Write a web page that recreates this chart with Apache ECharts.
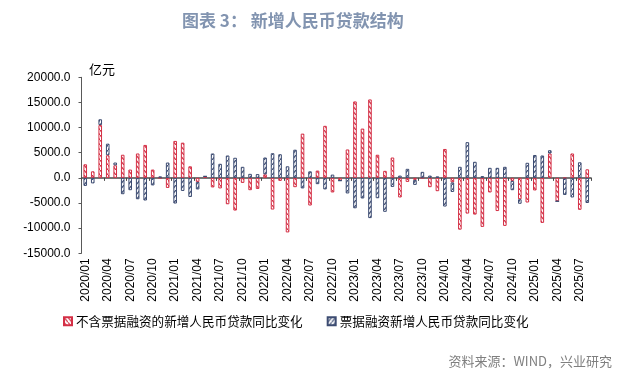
<!DOCTYPE html>
<html>
<head>
<meta charset="utf-8">
<script src="https://cdn.jsdelivr.net/npm/echarts@6/dist/echarts.min.js"></script>
<style>
html,body{margin:0;padding:0;background:#fff;}
#c{width:635px;height:375px;}
</style>
</head>
<body>
<div id="c"></div>
<script>
var categories = [
"2020/01","2020/02","2020/03","2020/04","2020/05","2020/06","2020/07","2020/08","2020/09","2020/10","2020/11","2020/12",
"2021/01","2021/02","2021/03","2021/04","2021/05","2021/06","2021/07","2021/08","2021/09","2021/10","2021/11","2021/12",
"2022/01","2022/02","2022/03","2022/04","2022/05","2022/06","2022/07","2022/08","2022/09","2022/10","2022/11","2022/12",
"2023/01","2023/02","2023/03","2023/04","2023/05","2023/06","2023/07","2023/08","2023/09","2023/10","2023/11","2023/12",
"2024/01","2024/02","2024/03","2024/04","2024/05","2024/06","2024/07","2024/08","2024/09","2024/10","2024/11","2024/12",
"2025/01","2025/02","2025/03","2025/04","2025/05","2025/06","2025/07","2025/08"
];
var seriesNames = ["不含票据融资的新增人民币贷款同比变化", "票据融资新增人民币贷款同比变化"];
var exBillChange = [
2700,1300,10500,4500,2500,4600,1650,4850,6550,1650,0,-2000,
7350,7000,2300,-800,300,-1900,-2100,-5250,-6500,-1000,-2450,-2200,
700,-6300,-600,-10850,-1850,8800,-5500,1450,10350,-2900,-550,5650,
15200,9800,15600,4600,1400,4050,-3900,-800,-400,0,-1850,-2650,
5750,-900,-10300,-7100,-7300,-9750,-2900,-6600,-9550,-600,-4250,-4900,
-2500,-8950,4850,-4650,-100,4850,-6350,1700
];
var billChange = [
-1600,-1100,1150,2300,550,-3250,-2450,-4250,-4500,-1500,300,3050,
-5100,-2600,-3800,-1500,0,4850,2800,4450,4000,2200,800,750,
3350,4900,4700,2300,5600,-2100,1300,-1250,-2300,650,0,-3100,
-6050,-4100,-8000,-4050,-6750,-1800,450,1800,-1000,1200,450,300,
-5700,-1900,2200,7100,3200,350,2000,2000,2200,-1850,-900,3000,
4550,4450,650,0,-3300,-3900,3100,-5000
];
var yTicks = {min:-15000, max:20000, interval:5000};

var RED = '#d42f45', BLUE = '#3d4c72';
function hatch(color, dir){
  var cv = document.createElement('canvas');
  cv.width = 4; cv.height = 5;
  var ctx = cv.getContext('2d');
  ctx.fillStyle = '#ffffff';
  ctx.fillRect(0,0,4,5);
  ctx.strokeStyle = color;
  ctx.lineWidth = 1.2;
  ctx.beginPath();
  if (dir > 0) { ctx.moveTo(0,5); ctx.lineTo(4,0); }
  else { ctx.moveTo(0,0); ctx.lineTo(4,5); }
  ctx.stroke();
  return {image: cv, repeat: 'repeat'};
}

var chart = echarts.init(document.getElementById('c'), null, {renderer:'canvas'});
chart.setOption({
  animation:false,
  backgroundColor:'#fff',
  title:{
    text:'图表 3： 新增人民币贷款结构',
    left:177, top:7,
    textStyle:{fontFamily:'Noto Sans CJK SC', fontSize:17, fontWeight:'bold', color:'#8294b0'}
  },
  graphic:[
    {type:'text', left:89, top:63, style:{text:'亿元', font:'13px "Noto Sans CJK SC"', fill:'#000'}},
    {type:'text', right:23, top:355, style:{text:'资料来源：WIND，兴业研究', font:'13px "Noto Sans CJK SC"', fill:'#7f7f7f'}}
  ],
  legend:{
    left:58, top:310,
    itemWidth:8, itemHeight:8, itemGap:24,
    textStyle:{fontFamily:'Noto Sans CJK SC', fontSize:12.6, color:'#000', padding:[0,0,0,-1]},
    data:[{name:seriesNames[0], icon:'rect'},{name:seriesNames[1], icon:'rect'}]
  },
  grid:{left:81.5, right:44, top:77.3, bottom:121.7},
  xAxis:[
    {type:'category', data:categories, position:'bottom',
     axisLine:{show:false, onZero:false}, axisTick:{show:false},
     axisLabel:{interval:2, rotate:90, margin:5, fontFamily:'Liberation Sans', fontSize:12, color:'#000'}},
    {type:'category', data:categories, position:'bottom',
     axisLine:{show:true, onZero:true, lineStyle:{color:'#4a4a4a', width:1.5}},
     axisTick:{show:true, interval:2, length:3, lineStyle:{color:'#4a4a4a'}},
     axisLabel:{show:false}}
  ],
  yAxis:{
    type:'value', min:yTicks.min, max:yTicks.max, interval:yTicks.interval,
    axisLine:{show:true, lineStyle:{color:'#595959', width:1}},
    axisTick:{show:true, length:3, lineStyle:{color:'#595959'}},
    splitLine:{show:false},
    axisLabel:{margin:11, fontFamily:'Liberation Sans', fontSize:12, color:'#000',
      formatter:function(v){return v.toFixed(1);}}
  },
  series:[
    {name:seriesNames[0], type:'bar', stack:'s', xAxisIndex:0, data:exBillChange, barWidth:3.6,
     itemStyle:{color:hatch(RED,-1), borderColor:RED, borderWidth:1}},
    {name:seriesNames[1], type:'bar', stack:'s', xAxisIndex:0, data:billChange, barWidth:3.6,
     itemStyle:{color:hatch(BLUE,1), borderColor:BLUE, borderWidth:1}}
  ]
});
</script>
</body>
</html>
